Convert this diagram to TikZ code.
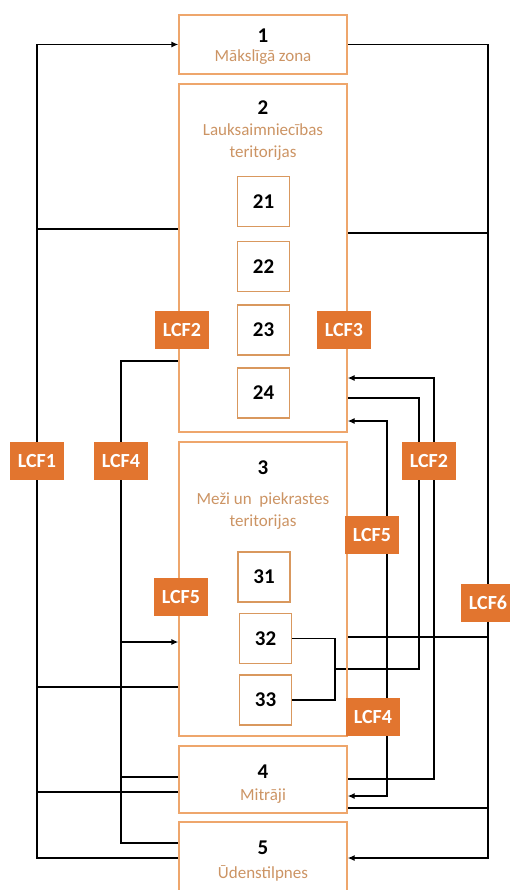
\documentclass[tikz,border=0pt]{standalone}
\usepackage{fontspec}
\setmainfont{Carlito}
\usetikzlibrary{arrows.meta,backgrounds}

\definecolor{lcforange}{HTML}{E2752F}
\definecolor{zoneline}{HTML}{EEA66C}
\definecolor{zonetext}{HTML}{CC9464}
\definecolor{subline}{HTML}{D9985E}

\tikzset{
  zone/.style={draw=zoneline,line width=1.3pt,minimum width=168,inner sep=0},
  subzone/.style={draw=subline,line width=1.5pt,minimum width=52,minimum height=50,
    font=\fontsize{21}{23}\selectfont\bfseries},
  znum/.style={inner sep=0,font=\fontsize{21}{23}\selectfont\bfseries},
  zname/.style={inner sep=0,align=center,text=zonetext,font=\fontsize{17}{22}\selectfont},
  lcf/.style={fill=lcforange,text=white,minimum width=54,minimum height=38,inner sep=0,
    font=\fontsize{20}{22}\selectfont\bfseries},
  link/.style={line width=1.3pt,black},
}

\begin{document}
\begin{tikzpicture}[x=1pt,y=-1pt,>={Latex[length=7,width=6]}]
  \useasboundingbox (0,0) rectangle (509,890);
  % zonas
  \node[zone,minimum height=59] (b1) at (263,44.5) {};
  \node[zone,minimum height=348] (b2) at (263,258) {};
  \node[zone,minimum height=294] (b3) at (263,589) {};
  \node[zone,minimum height=67] (b4) at (263,779.5) {};
  \node[zone,minimum height=76] (b5) at (263,860) {};
  \node[znum] (t1) at (263,36) {1};
  \node[zname] (s1) at (263,57) {Mākslīgā zona};
  \node[znum] (t2) at (263,108) {2};
  \node[zname] (s2) at (263,142) {Lauksaimniecības\\teritorijas};
  \node[znum] (t3) at (263,468) {3};
  \node[zname] (s3) at (263,511) {Meži un~ piekrastes\\teritorijas};
  \node[znum] (t4) at (263,772) {4};
  \node[zname] (s4) at (263,796) {Mitrāji};
  \node[znum] (t5) at (263,848) {5};
  \node[zname] (s5) at (263,873) {Ūdenstilpnes};
  % apakszonas
  \foreach \n/\y in {21/201.5,22/266.5,23/330,24/393}
    \node[subzone] (n\n) at (263.5,\y) {\n};
  \node[subzone] (n31) at (264,577) {31};
  \node[subzone] (n32) at (265.5,638.5) {32};
  \node[subzone] (n33) at (265.5,700) {33};
  % LCF
  \node[lcf] (lcf1) at (37,461) {LCF1};
  \node[lcf] (lcf4) at (121,461) {LCF4};
  \node[lcf] (lcf2l) at (182,330) {LCF2};
  \node[lcf] (lcf3) at (344,330) {LCF3};
  \node[lcf] (lcf5l) at (181,597) {LCF5};
  \node[lcf] (lcf2r) at (429,461) {LCF2};
  \node[lcf] (lcf5r) at (372,535) {LCF5};
  \node[lcf] (lcf4r) at (373,717) {LCF4};
  \node[lcf] (lcf6) at (488,603) {LCF6};
  \coordinate (brk) at (335,669);
  \begin{pgfonlayer}{background}
    % LCF1
    \draw[link,->] (b5.west |- 0,858) -| (lcf1) |- (b1.west);
    \foreach \y in {229,687,792}
      \draw[link] (b2.west |- 0,\y) -- (lcf1 |- 0,\y);
    % LCF4 kreisa puse
    \draw[link] (b2.west |- 0,361) -| (lcf4) |- (b5.west |- 0,843);
    \draw[link,->] (lcf4 |- 0,642) -- (b3.west |- 0,642);
    \draw[link] (lcf4 |- 0,777) -- (b4.west |- 0,777);
    % LCF6
    \draw[link,->] (b1.east) -| (lcf6) |- (b5.east |- 0,858);
    \foreach \y in {233,637,808}
      \draw[link] (b2.east |- 0,\y) -- (lcf6 |- 0,\y);
    % LCF2 laba puse
    \draw[link,->] (b4.east |- 0,779) -| ([xshift=5]lcf2r.center) |- (b2.east |- 0,378);
    \draw[link] (b2.east |- 0,398) -| ([xshift=-10]lcf2r.center) |- (brk);
    \draw[link] (n32.east) -| (brk) |- (n33.east);
    % LCF5 / LCF4 laba puse
    \draw[link,<->] (b2.east |- 0,421) -| ([xshift=15]lcf5r.center) |- (b4.east |- 0,796);
  \end{pgfonlayer}
\end{tikzpicture}
\end{document}
